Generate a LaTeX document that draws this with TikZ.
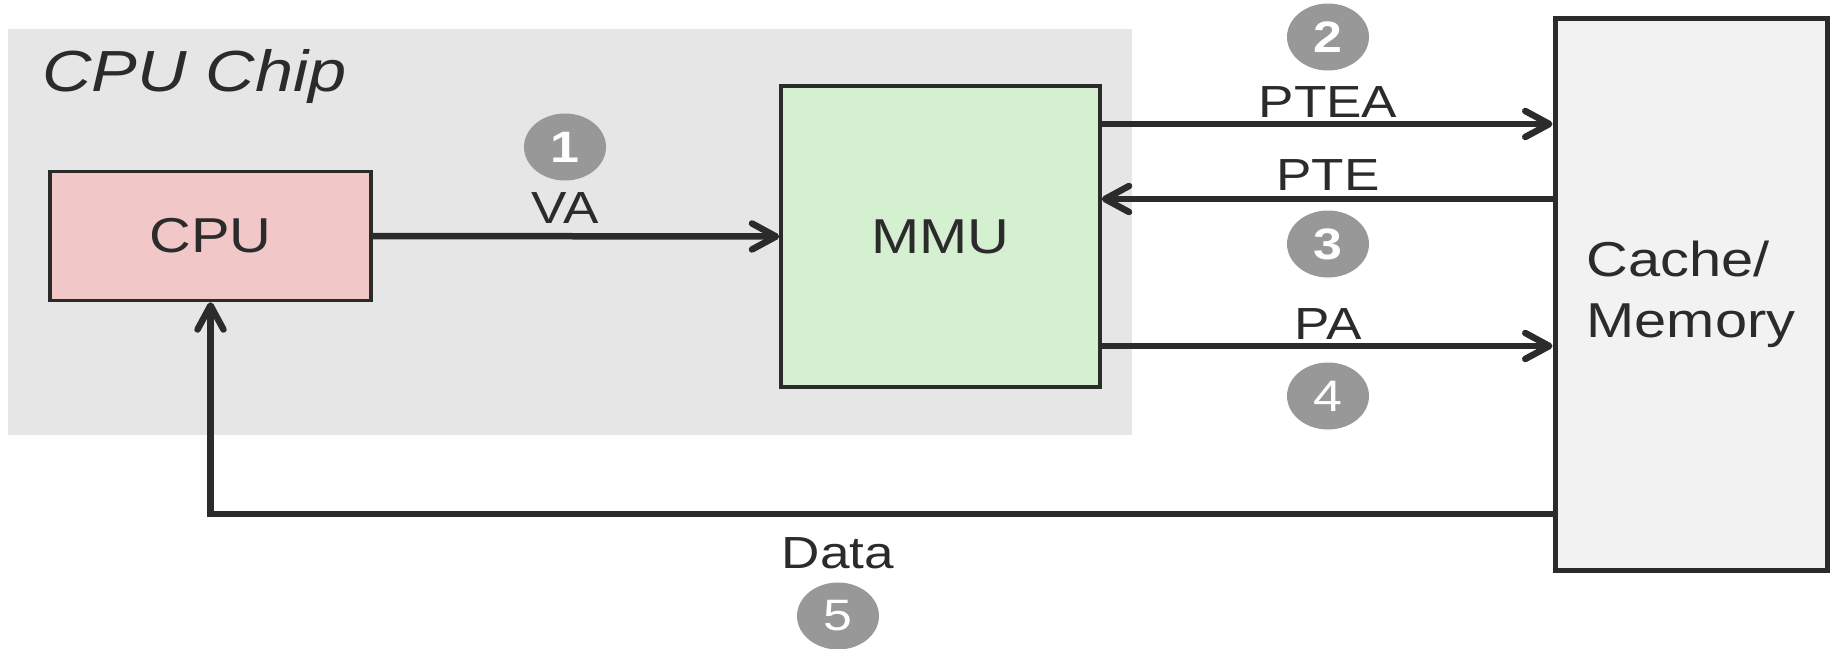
\documentclass[tikz,border=0pt]{standalone}
\usepackage{fontspec}
\setmainfont{Liberation Sans}[FakeStretch=1.18]
\usetikzlibrary{arrows.meta,shapes.geometric}
\definecolor{ink}{HTML}{2B2B2B}
\definecolor{chipbg}{HTML}{E6E6E6}
\definecolor{cpufill}{HTML}{F1C7C8}
\definecolor{mmufill}{HTML}{D5F0D0}
\definecolor{memfill}{HTML}{F2F2F2}
\definecolor{badge}{HTML}{989898}
\tikzset{
  box/.style={draw=ink, line width=3.5pt, inner sep=0pt, text=ink, font=\fontsize{49}{55}\selectfont},
  conn/.style={draw=ink, line width=6.5pt, -{Straight Barb[length=24pt,width=26pt,round]}},
  lbl/.style={text=ink, inner sep=0pt, font=\fontsize{45}{50}\selectfont},
  num/.style={ellipse, fill=badge, minimum width=82pt, minimum height=67pt, inner sep=0pt, text=white, font=\fontsize{44}{48}\selectfont\bfseries},
  numthin/.style={num, font=\fontsize{44}{48}\selectfont},
}
\begin{document}
\begin{tikzpicture}[x=1pt,y=-1pt]
\useasboundingbox (0,0) rectangle (1833,648);
% chip background
\node[fill=chipbg, minimum width=1124pt, minimum height=406pt, inner sep=0pt, anchor=north west] (chip) at (8,29) {};
\node[anchor=west, text=ink, inner sep=0pt, font=\fontsize{58}{64}\selectfont\itshape] (chiplbl) at (42,77) {CPU Chip};
% boxes
\node[box, fill=cpufill, minimum width=321pt, minimum height=129pt] (cpu) at (210.5,236) {CPU};
\node[box, fill=mmufill, minimum width=319pt, minimum height=301pt] (mmu) at (940.5,236.5) {MMU};
\node[box, fill=memfill, line width=5pt, minimum width=272pt, minimum height=552pt, align=left, font=\fontsize{49}{61}\selectfont] (mem) at (1691,294) {Cache/\\Memory};
% connectors
\draw[conn] (cpu.east) -- (mmu.west);
\draw[conn] (mmu.east |- 0,124) -- (mem.west |- 0,124);
\draw[conn] (mem.west |- 0,199) -- (mmu.east |- 0,199);
\draw[conn] (mmu.east |- 0,346) -- (mem.west |- 0,346);
\coordinate (dturn) at (cpu.south |- 0,514);
\draw[conn] (mem.west |- 0,514) -- (dturn) -- (cpu.south);
% labels
\node[lbl] (lva) at (565,208) {VA};
\node[lbl] (lptea) at (1328,102) {PTEA};
\node[lbl] (lpte) at (1328,175) {PTE};
\node[lbl] (lpa) at (1328,324) {PA};
\node[lbl] (ldata) at (838,553) {Data};
% badges
\node[num] (n1) at (565,147) {1};
\node[num] (n2) at (1328,37) {2};
\node[num] (n3) at (1328,244) {3};
\node[numthin] (n4) at (1328,396) {4};
\node[numthin] (n5) at (838,616) {5};
\end{tikzpicture}
\end{document}
